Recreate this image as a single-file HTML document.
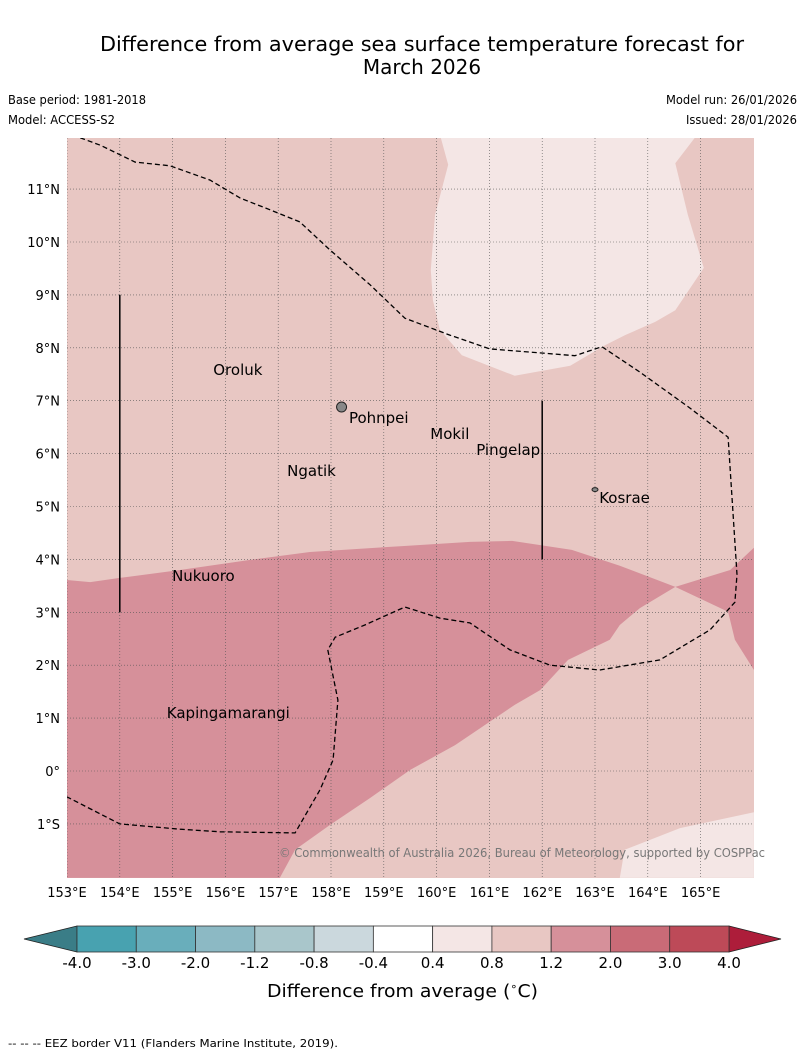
<!DOCTYPE html>
<html><head><meta charset="utf-8"><style>
body{margin:0;background:#fff;width:804px;height:1058px;overflow:hidden;font-family:"DejaVu Sans","Liberation Sans",sans-serif;}
svg text{font-family:"DejaVu Sans","Liberation Sans",sans-serif;}
</style></head><body>
<svg id="chart" width="804" height="1058">
<text x="100" y="51" font-size="20" textLength="644" lengthAdjust="spacingAndGlyphs">Difference from average sea surface temperature forecast for</text>
<text x="422" y="74" font-size="20" text-anchor="middle">March 2026</text>
<text x="8" y="104" font-size="12" textLength="138" lengthAdjust="spacingAndGlyphs">Base period: 1981-2018</text>
<text x="8" y="124" font-size="12" textLength="107" lengthAdjust="spacingAndGlyphs">Model: ACCESS-S2</text>
<text x="666" y="104" font-size="12" textLength="131" lengthAdjust="spacingAndGlyphs">Model run: 26/01/2026</text>
<text x="686" y="124" font-size="12" textLength="111" lengthAdjust="spacingAndGlyphs">Issued: 28/01/2026</text>
<defs><clipPath id="mapclip"><rect x="67" y="138" width="687" height="740"/></clipPath></defs>
<g id="map" clip-path="url(#mapclip)"></g>
<text x="279" y="857" font-size="12" fill="#777" textLength="486" lengthAdjust="spacingAndGlyphs">© Commonwealth of Australia 2026, Bureau of Meteorology, supported by COSPPac</text>
<g id="labels"></g>
<g id="cbar"></g>
<text x="267" y="997" font-size="18" textLength="271" lengthAdjust="spacingAndGlyphs">Difference from average (<tspan font-size="11" dy="-7">∘</tspan><tspan dy="7">C)</tspan></text>
<text x="8" y="1047" font-size="11" textLength="330" lengthAdjust="spacingAndGlyphs">--  --  -- EEZ border V11 (Flanders Marine Institute, 2019).</text>
</svg>
<script>
const lonTicks=[153,154,155,156,157,158,159,160,161,162,163,164,165];
const latTicks=[11,10,9,8,7,6,5,4,3,2,1,0,-1];
const latLabels=["11°N","10°N","9°N","8°N","7°N","6°N","5°N","4°N","3°N","2°N","1°N","0°","1°S"];
const lightRegion=[[160.08,11.97],[160.22,11.46],[159.97,10.51],[159.89,9.47],[159.93,8.90],[160.06,8.34],[160.48,7.86],[161.48,7.47],[162.53,7.66],[163.19,8.05],[163.57,8.24],[164.14,8.49],[164.52,8.71],[165.06,9.51],[164.76,10.51],[164.52,11.49],[164.89,11.97]];
const midRegion=[[153.0,3.61],[153.44,3.57],[154.0,3.65],[155.14,3.80],[156.47,3.99],[157.60,4.14],[159.31,4.25],[160.63,4.33],[161.43,4.35],[162.56,4.18],[163.47,3.88],[164.52,3.48],[163.85,3.08],[163.47,2.76],[163.28,2.48],[162.49,2.10],[161.96,1.53],[161.48,1.25],[160.35,0.49],[159.50,0.02],[158.74,-0.51],[157.98,-1.02],[157.32,-1.49],[157.03,-2.02],[153.0,-2.02]];
const midRegionEast=[[164.52,3.48],[165.56,3.80],[166.01,4.22],[166.01,1.91],[165.65,2.48],[165.52,3.01]];
const lightRegionSE=[[163.47,-2.02],[163.56,-1.49],[164.61,-1.08],[166.01,-0.78],[166.01,-2.02]];
const eezLine=[[153.25,11.97],[153.63,11.83],[154.29,11.51],[154.95,11.44],[155.71,11.17],[156.28,10.83],[156.84,10.61],[157.41,10.38],[157.98,9.85],[158.74,9.19],[159.40,8.56],[160.25,8.24],[161.01,7.98],[162.62,7.85],[163.13,8.02],[163.85,7.54],[164.80,6.86],[165.52,6.31],[165.69,3.71],[165.65,3.19],[165.18,2.67],[164.23,2.10],[163.09,1.91],[162.15,2.00],[161.39,2.29],[160.63,2.80],[160.06,2.89],[159.40,3.10],[158.64,2.76],[158.08,2.53],[157.94,2.29],[158.13,1.34],[158.04,0.21],[157.79,-0.36],[157.32,-1.17],[155.90,-1.15],[155.14,-1.10],[154.0,-1.00],[153.0,-0.49]];
const islandNames=["Oroluk","Pohnpei","Mokil","Pingelap","Ngatik","Kosrae","Nukuoro","Kapingamarangi"];
const islandLon=[155.77,158.34,159.88,160.75,157.17,163.08,154.99,154.89];
const islandLat=[7.58,6.67,6.37,6.07,5.67,5.16,3.69,1.10];
const cbBounds=["-4.0","-3.0","-2.0","-1.2","-0.8","-0.4","0.4","0.8","1.2","2.0","3.0","4.0"];
const cbColors=["#48a2b0","#69aebb","#8cb9c4","#a9c6cb","#cbd8dd","#ffffff","#f4e6e5","#e8c7c3","#d6909a","#c96b77","#bd4a58"];

const NS='http://www.w3.org/2000/svg';
const X=lon=>67+(lon-153)*52.8;
const Y=lat=>771-lat*52.9;
function mk(tag,attrs,parent){const e=document.createElementNS(NS,tag);for(const k in attrs)e.setAttribute(k,attrs[k]);parent.appendChild(e);return e;}
const map=document.getElementById('map');
const pts=a=>a.map(p=>X(p[0]).toFixed(1)+','+Y(p[1]).toFixed(1)).join(' ');
let bg=mk('rect',{x:67,y:138,width:687,height:740,fill:'#e8c7c3'},map);


const regions=[[lightRegion,'#f4e6e5','anomaly-0.4-0.8-north'],[midRegion,'#d6909a','anomaly-1.2-2.0-south'],[midRegionEast,'#d6909a','anomaly-1.2-2.0-east'],[lightRegionSE,'#f4e6e5','anomaly-0.4-0.8-southeast']];
for(const r of regions){const p=mk('polygon',{points:pts(r[0]),fill:r[1]},map);

}
for(const lo of lonTicks){const l=mk('line',{x1:X(lo),x2:X(lo),y1:138,y2:878,stroke:'#555','stroke-width':0.6,'stroke-dasharray':'1,2'},map);

}
for(const la of latTicks){const l=mk('line',{x1:67,x2:754,y1:Y(la),y2:Y(la),stroke:'#555','stroke-width':0.6,'stroke-dasharray':'1,2'},map);

}
const eez=mk('polyline',{points:pts(eezLine),fill:'none',stroke:'#000','stroke-width':1.3,'stroke-dasharray':'5,3'},map);


const v1=mk('line',{x1:X(154),x2:X(154),y1:Y(9),y2:Y(3),stroke:'#000','stroke-width':1.5},map);


const v2=mk('line',{x1:X(162),x2:X(162),y1:Y(7),y2:Y(4),stroke:'#000','stroke-width':1.5},map);


const pn=mk('circle',{cx:X(158.2),cy:Y(6.88),r:5,fill:'#888',stroke:'#222','stroke-width':1},map);


const ks=mk('ellipse',{cx:X(163),cy:Y(5.32),rx:3,ry:2,fill:'#888',stroke:'#222','stroke-width':1},map);


const lab=document.getElementById('labels');
islandNames.forEach((n,i)=>{const t=mk('text',{x:X(islandLon[i]),y:Y(islandLat[i])+5,'font-size':15},lab);t.textContent=n;

});
lonTicks.forEach(lo=>{const t=mk('text',{x:X(lo),y:897,'font-size':13,'text-anchor':'middle'},lab);t.textContent=lo+'°E';

});
latTicks.forEach((la,i)=>{const t=mk('text',{x:60,y:Y(la)+5,'font-size':13,'text-anchor':'end'},lab);t.textContent=latLabels[i];

});
const cb=document.getElementById('cbar');
const cx0=77,cx1=729,cw=(cx1-cx0)/cbColors.length,cy0=926,cy1=952;
const lt=mk('polygon',{points:`24,939 ${cx0},${cy0} ${cx0},${cy1}`,fill:'#3a7d87',stroke:'#222','stroke-width':0.8},cb);


const rt=mk('polygon',{points:`781,939 ${cx1},${cy0} ${cx1},${cy1}`,fill:'#ad1d3a',stroke:'#222','stroke-width':0.8},cb);


cbColors.forEach((c,i)=>{const r=mk('rect',{x:cx0+i*cw,y:cy0,width:cw,height:cy1-cy0,fill:c,stroke:'#333','stroke-width':0.8},cb);

});
cbBounds.forEach((b,i)=>{const t=mk('text',{x:cx0+i*cw,y:968,'font-size':15,'text-anchor':'middle'},cb);t.textContent=b;

});
</script>
</body></html>
